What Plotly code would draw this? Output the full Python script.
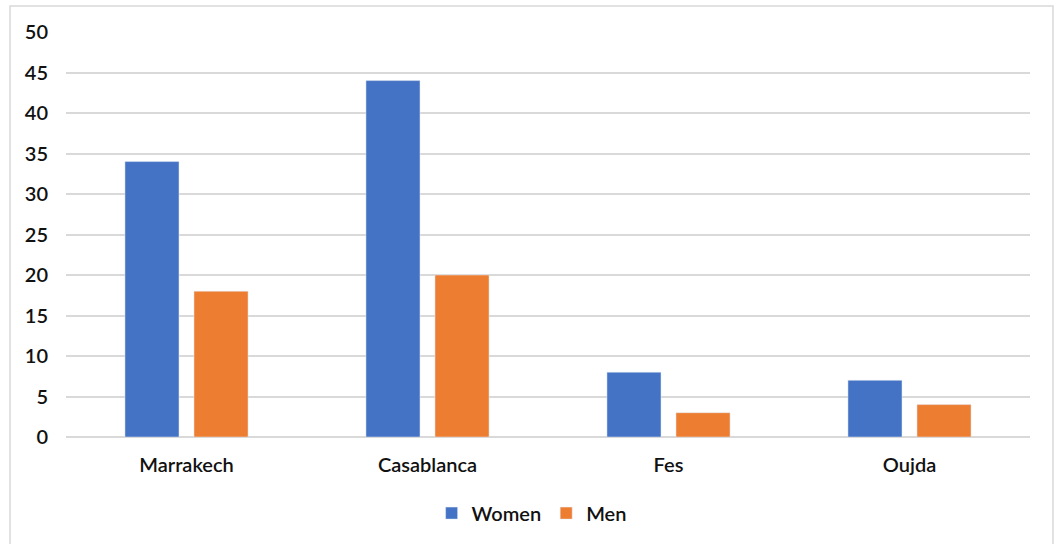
import plotly.graph_objects as go

categories = ["Marrakech", "Casablanca", "Fes", "Oujda"]
women = [34, 44, 8, 7]
men = [18, 20, 3, 4]
y_ticks = [0, 5, 10, 15, 20, 25, 30, 35, 40, 45, 50]

FONT = "Lato, Carlito, Open Sans, sans-serif"
TF = dict(family=FONT, size=20, color="#111111", weight=600)

fig = go.Figure()
fig.add_trace(go.Bar(x=categories, y=women, name="Women", marker_color="#4472C4"))
fig.add_trace(go.Bar(x=categories, y=men, name="Men", marker_color="#ED7D31"))

fig.update_layout(
    width=1056, height=544,
    margin=dict(l=66, r=26, t=32, b=106),
    paper_bgcolor="white", plot_bgcolor="white",
    barmode="group", bargap=0.427, bargroupgap=0.217,
    font=TF,
    showlegend=True,
    legend=dict(orientation="h", x=0.483, xanchor="center", y=-0.185, yanchor="middle",
                font=TF, itemwidth=30, tracegroupgap=0,
                traceorder="normal"),
    shapes=[dict(type="rect", xref="paper", yref="paper",
                 x0=(10 - 66) / 964, x1=(1053 - 66) / 964,
                 y0=(438 - 560) / 406, y1=(438 - 6) / 406,
                 line=dict(color="#d9d9d9", width=1.5), fillcolor="rgba(0,0,0,0)", layer="below")],
)
fig.update_xaxes(showgrid=False, showline=False, ticks="", ticklabelstandoff=14, tickfont=TF)
fig.update_yaxes(range=[0, 50], tickvals=y_ticks, showgrid=True, gridcolor="#d9d9d9", gridwidth=1.5,
                 zeroline=True, zerolinecolor="#d9d9d9", zerolinewidth=1.5,
                 showline=False, ticks="", ticklabelstandoff=17, tickfont=TF)

fig.write_html("out.html")
